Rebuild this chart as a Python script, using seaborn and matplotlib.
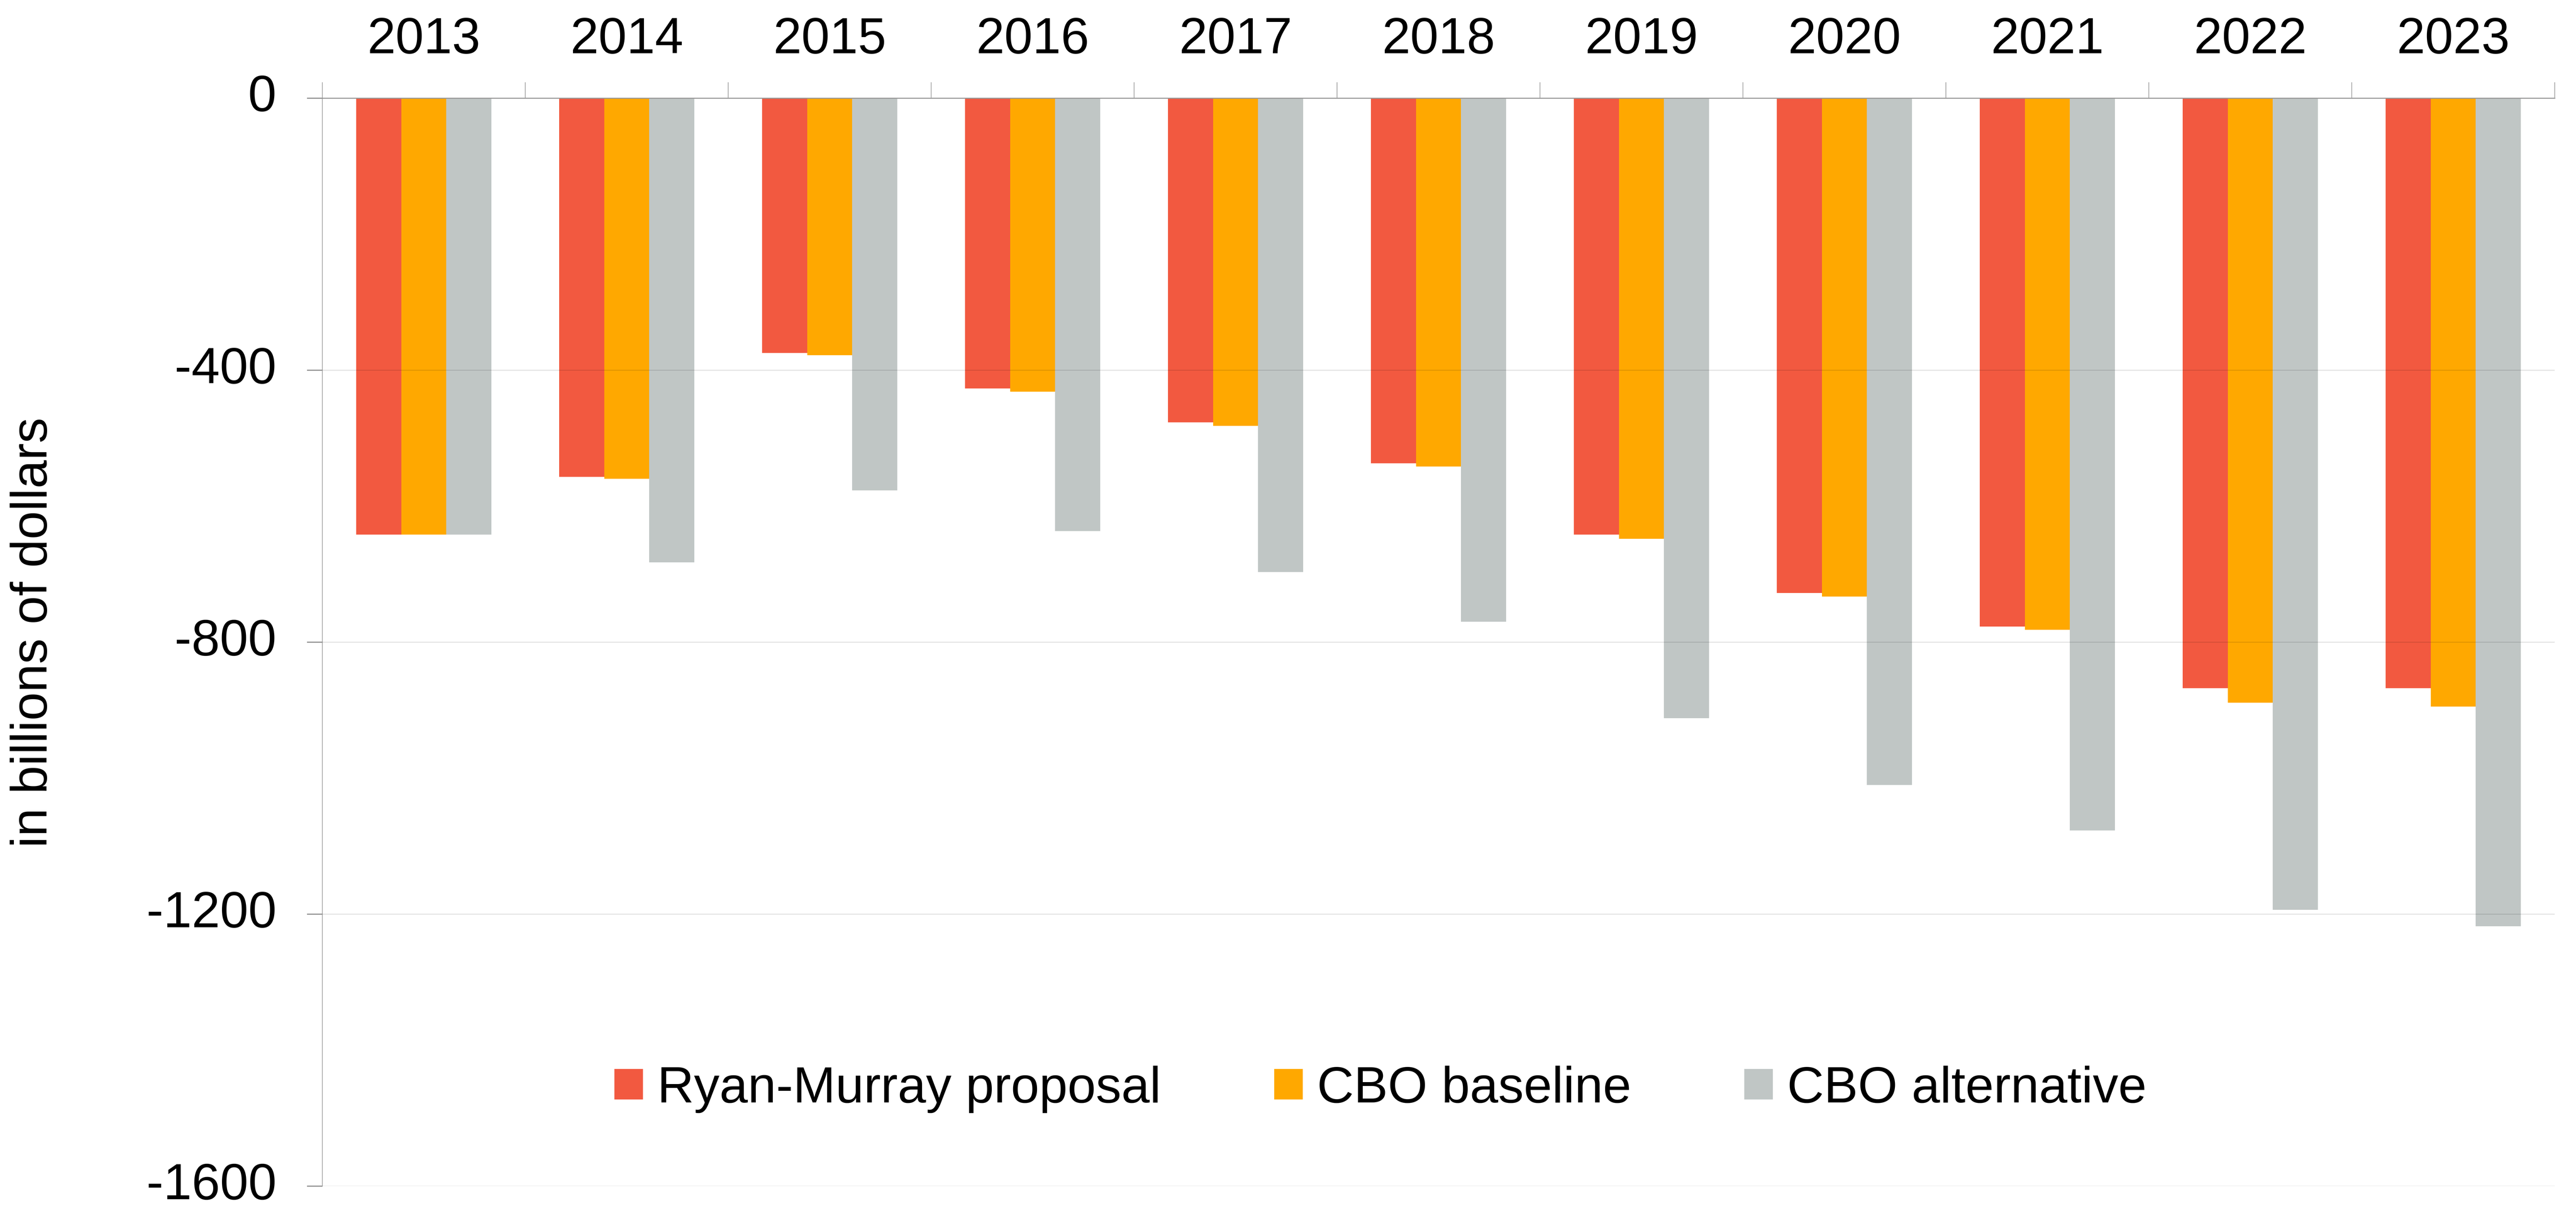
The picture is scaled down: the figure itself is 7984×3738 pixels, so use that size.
import numpy as np
import matplotlib
matplotlib.use("Agg")
import matplotlib.pyplot as plt
import matplotlib.patches as mpatches
import seaborn as sns
import pandas as pd

# Data (billions of dollars)
years = ['2013', '2014', '2015', '2016', '2017', '2018', '2019', '2020', '2021', '2022', '2023']
series = ['Ryan-Murray proposal', 'CBO baseline', 'CBO alternative']
ryan_murray = [-642, -557, -375, -427, -477, -537, -642, -728, -777, -868, -868]
cbo_baseline = [-642, -560, -378, -432, -482, -542, -648, -733, -782, -889, -895]
cbo_alternative = [-642, -683, -577, -637, -697, -770, -912, -1010, -1077, -1194, -1218]
colors = ['#F25940', '#FFA800', '#C0C6C5']
yticks = [0, -400, -800, -1200, -1600]

df = pd.DataFrame({
    'year': years * 3,
    'series': [series[0]] * 11 + [series[1]] * 11 + [series[2]] * 11,
    'value': ryan_murray + cbo_baseline + cbo_alternative,
})

sns.set_style('white')
plt.rcParams['font.family'] = ['Liberation Sans', 'DejaVu Sans']
plt.rcParams['axes.unicode_minus'] = False
plt.rcParams['text.color'] = 'black'
plt.rcParams['xtick.labelcolor'] = 'black'
plt.rcParams['ytick.labelcolor'] = 'black'

fs = 28.4
fig = plt.figure(figsize=(19.96, 9.345), dpi=400)
ax = fig.add_axes([999 / 7984, 1 - 3676 / 3738, (7918 - 999) / 7984, (3676 - 304) / 3738])

sns.barplot(data=df, x='year', y='value', hue='series', palette=colors,
            width=0.665, saturation=1, errorbar=None, linewidth=0, ax=ax, zorder=2)
ax.get_legend().remove()

ax.set_ylim(-1600, 0)
ax.set_xlim(-0.5, len(years) - 0.5)
ax.set_xlabel('')
ax.set_ylabel('')

# y axis
ax.set_yticks(yticks)
ax.set_yticklabels([str(v) for v in yticks], fontsize=fs, va='center')
ax.tick_params(axis='y', direction='out', length=8.6, width=0.6, color='#8c8c8c', pad=17, left=True)
ax.yaxis.grid(True, color='#000000', alpha=0.12, linewidth=0.5, zorder=3)
ax.set_axisbelow(False)

# x axis on top: ticks at group boundaries, labels at centres
ax.xaxis.tick_top()
ax.set_xticks(np.arange(-0.5, len(years), 1.0))
ax.set_xticklabels([])
ax.set_xticks(np.arange(len(years)), minor=True)
ax.set_xticklabels(years, minor=True, fontsize=fs)
ax.tick_params(axis='x', which='major', direction='out', length=8.8, width=0.4, color='#a0a0a0', top=True, bottom=False)
ax.tick_params(axis='x', which='minor', length=0, pad=19, top=True, bottom=False)

for side in ['right', 'bottom']:
    ax.spines[side].set_visible(False)
ax.spines['top'].set_color('#a6a6a6')
ax.spines['top'].set_linewidth(0.6)
ax.spines['left'].set_color('#a0a0a0')
ax.spines['left'].set_linewidth(0.4)

fig.text(105 / 7984, 1 - 1960 / 3738, 'in billions of dollars', rotation=90,
         ha='center', va='center', fontsize=fs, color='black')

handles = [mpatches.Patch(color=c, label=s) for c, s in zip(colors, series)]
fig.legend(handles=handles, loc='center', bbox_to_anchor=(4280 / 7984, 1 - 3376 / 3738),
           ncol=3, frameon=False, fontsize=fs, handlelength=0.525, handleheight=0.5,
           handletextpad=0.3, columnspacing=2.24, labelcolor='black')

fig.savefig('out.png', dpi=400, facecolor='white')
